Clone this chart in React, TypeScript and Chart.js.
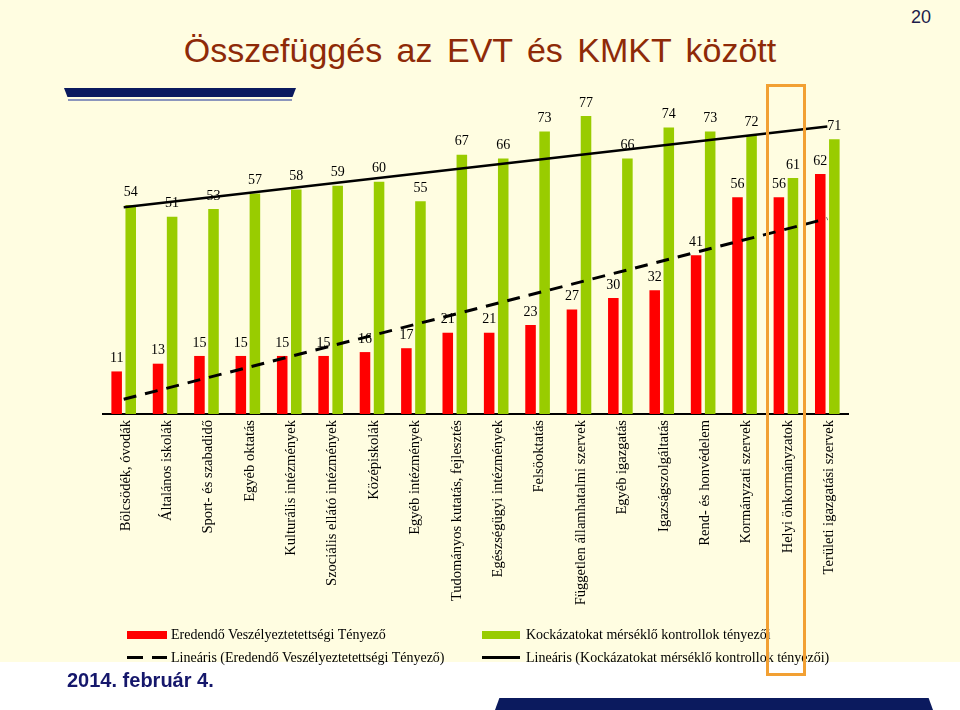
import React, { useEffect, useRef } from "react";
import { Chart, registerables } from "chart.js";

Chart.register(...registerables);

const categories = [
  "Bölcsödék, óvodák",
  "Általános iskolák",
  "Sport- és szabadidő",
  "Egyéb oktatás",
  "Kulturális intézmények",
  "Szociális ellátó intézmények",
  "Középiskolák",
  "Egyéb intézmények",
  "Tudományos kutatás, fejlesztés",
  "Egészségügyi intézmények",
  "Felsöoktatás",
  "Független államhatalmi szervek",
  "Egyéb igazgatás",
  "Igazságszolgáltatás",
  "Rend- és honvédelem",
  "Kormányzati szervek",
  "Helyi önkormányzatok",
  "Területi igazgatási szervek",
];

const redValues = [11, 13, 15, 15, 15, 15, 16, 17, 21, 21, 23, 27, 30, 32, 41, 56, 56, 62];
const greenValues = [54, 51, 53, 57, 58, 59, 60, 55, 67, 66, 73, 77, 66, 74, 73, 72, 61, 71];

// trend line end values (first and last category)
const redTrendEnds = [3.8, 50.5];
const greenTrendEnds = [53.4, 74.3];

const seriesNames = [
  "Eredendő Veszélyeztetettségi Tényező",
  "Kockázatokat mérséklő kontrollok tényezői",
  "Lineáris (Eredendő Veszélyeztetettségi Tényező)",
  "Lineáris (Kockázatokat mérséklő kontrollok tényezői)",
];

const titleText = "Összefüggés az EVT és KMKT között";
const pageNumber = "20";
const dateText = "2014. február 4.";

const RED = "#FF0000";
const GREEN = "#99CC00";
const CREAM = "#FFFDE1";
const NAVY = "#0B1A5E";

const valueLabelPlugin = {
  id: "valueLabels",
  afterDatasetsDraw(chart: any) {
    const ctx = chart.ctx;
    ctx.save();
    ctx.font = "14px 'Liberation Serif'";
    ctx.fillStyle = "#000";
    ctx.textAlign = "center";
    ctx.textBaseline = "bottom";
    chart.data.datasets.forEach((ds: any, i: number) => {
      if (ds.type !== "bar") return;
      const meta = chart.getDatasetMeta(i);
      meta.data.forEach((el: any, j: number) => {
        ctx.fillText(String(ds.data[j]), el.x, el.y - 6);
      });
    });
    ctx.restore();
  },
};

function ChartCanvas() {
  const ref = useRef<HTMLCanvasElement | null>(null);
  useEffect(() => {
    if (!ref.current) return;
    const last = categories.length - 1;
    const chart = new Chart(ref.current, {
      type: "bar",
      data: {
        labels: categories,
        datasets: [
          {
            type: "line",
            label: seriesNames[2],
            data: [
              { x: categories[0], y: redTrendEnds[0] },
              { x: categories[last], y: redTrendEnds[1] },
            ] as any,
            borderColor: "#000",
            borderWidth: 3,
            borderDash: [13, 9],
            pointRadius: 0,
            fill: false,
            order: 0,
          },
          {
            type: "line",
            label: seriesNames[3],
            data: [
              { x: categories[0], y: greenTrendEnds[0] },
              { x: categories[last], y: greenTrendEnds[1] },
            ] as any,
            borderColor: "#000",
            borderWidth: 2.5,
            pointRadius: 0,
            fill: false,
            order: 0,
          },
          {
            type: "bar",
            label: seriesNames[0],
            data: redValues,
            backgroundColor: RED,
            categoryPercentage: 0.68,
            barPercentage: 0.75,
            order: 1,
          },
          {
            type: "bar",
            label: seriesNames[1],
            data: greenValues,
            backgroundColor: GREEN,
            categoryPercentage: 0.68,
            barPercentage: 0.75,
            order: 2,
          },
        ] as any,
      },
      options: {
        responsive: false,
        animation: false,
        layout: { padding: { left: 103, right: 112, top: 27, bottom: 0 } },
        plugins: {
          legend: { display: false },
          tooltip: { enabled: false },
        },
        scales: {
          x: {
            offset: true,
            grid: { display: false, drawTicks: false },
            border: { display: true, color: "#000", width: 2 },
            ticks: {
              autoSkip: false,
              maxRotation: 90,
              minRotation: 90,
              color: "#000",
              padding: 6,
              labelOffset: 2,
              font: { family: "'Liberation Serif'", size: 14.5 },
            },
            afterFit: (s: any) => {
              s.height = 296;
            },
          },
          y: { display: false, min: 0, max: 100 },
        },
      } as any,
      plugins: [valueLabelPlugin],
    });
    return () => chart.destroy();
  }, []);
  return (
    <canvas
      ref={ref}
      width={960}
      height={710}
      style={{ position: "absolute", left: 0, top: 0, display: "block" }}
    />
  );
}

const legendText: React.CSSProperties = {
  position: "absolute",
  fontFamily: "'Liberation Serif', serif",
  fontSize: 14,
  color: "#000",
  lineHeight: "16px",
  whiteSpace: "nowrap",
};

export default function App() {
  return (
    <div
      style={{
        position: "absolute",
        left: 0,
        top: 0,
        width: 960,
        height: 710,
        overflow: "hidden",
        background: `linear-gradient(to bottom, ${CREAM} 0px, ${CREAM} 662px, #FFFFFF 662px)`,
      }}
    >
      {/* title */}
      <div
        style={{
          position: "absolute",
          left: 0,
          width: 960,
          top: 32,
          textAlign: "center",
          paddingRight: 2,
          fontFamily: "'Liberation Sans', Arial, sans-serif",
          fontSize: 34,
          lineHeight: "36px",
          color: "#8E2A08",
          wordSpacing: 5,
          whiteSpace: "nowrap",
        }}
      >
        {titleText}
      </div>
      <div
        style={{
          position: "absolute",
          left: 911,
          top: 7,
          fontFamily: "'Liberation Sans', Arial, sans-serif",
          fontSize: 18,
          lineHeight: "20px",
          color: "#1C1C4A",
        }}
      >
        {pageNumber}
      </div>
      {/* decorative bars */}
      <div
        style={{
          position: "absolute",
          left: 64,
          top: 88,
          width: 232,
          height: 9,
          background: NAVY,
          clipPath: "polygon(0 0, 100% 0, 98.5% 100%, 1.5% 100%)",
        }}
      />
      <div style={{ position: "absolute", left: 68, top: 99, width: 224, height: 2, background: "#8C96BC" }} />
      <div
        style={{
          position: "absolute",
          left: 495,
          top: 698,
          width: 438,
          height: 12,
          background: NAVY,
          clipPath: "polygon(1% 0, 99% 0, 100% 100%, 0 100%)",
        }}
      />

      <ChartCanvas />

      {/* legend */}
      <div style={{ position: "absolute", left: 127, top: 631, width: 40, height: 8, background: RED }} />
      <div style={{ ...legendText, left: 171, top: 627 }}>{seriesNames[0]}</div>
      <div style={{ position: "absolute", left: 482, top: 631, width: 38, height: 8, background: GREEN }} />
      <div style={{ ...legendText, left: 526, top: 627 }}>{seriesNames[1]}</div>
      <div style={{ position: "absolute", left: 127, top: 656, width: 16, height: 3, background: "#000" }} />
      <div style={{ position: "absolute", left: 152, top: 656, width: 15, height: 3, background: "#000" }} />
      <div style={{ ...legendText, left: 171, top: 650 }}>{seriesNames[2]}</div>
      <div style={{ position: "absolute", left: 482, top: 656, width: 38, height: 3, background: "#000" }} />
      <div style={{ ...legendText, left: 526, top: 650 }}>{seriesNames[3]}</div>

      {/* date */}
      <div
        style={{
          position: "absolute",
          left: 67,
          top: 669,
          fontFamily: "'Liberation Sans', Arial, sans-serif",
          fontWeight: "bold",
          fontSize: 20,
          lineHeight: "22px",
          color: "#15176B",
          whiteSpace: "nowrap",
        }}
      >
        {dateText}
      </div>

      {/* highlight rectangle */}
      <div
        style={{
          position: "absolute",
          left: 766,
          top: 84,
          width: 40,
          height: 592,
          boxSizing: "border-box",
          border: "3px solid #F2A033",
        }}
      />
    </div>
  );
}
